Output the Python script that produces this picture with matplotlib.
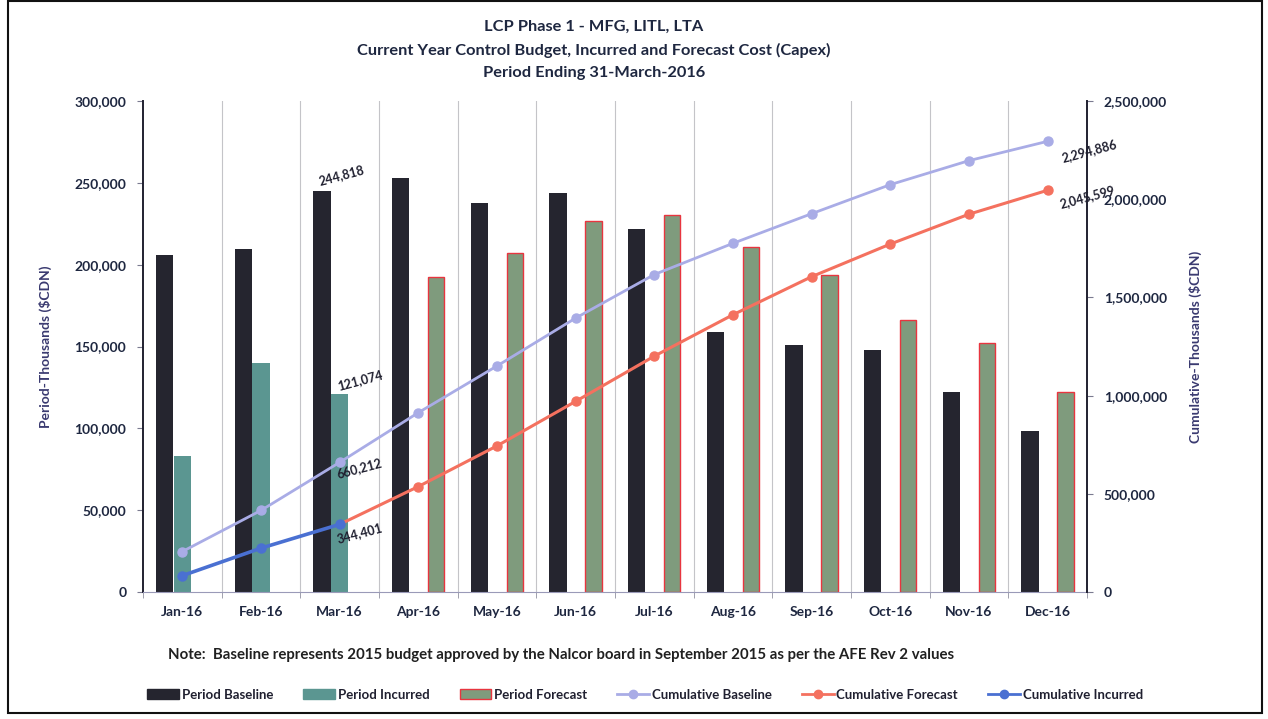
import numpy as np
import matplotlib
matplotlib.use("Agg")
import matplotlib.pyplot as plt
from matplotlib.patches import Patch, Rectangle
from matplotlib.lines import Line2D
from matplotlib.ticker import FuncFormatter, MultipleLocator, FixedLocator

plt.rcParams['font.family'] = ['Lato', 'DejaVu Sans']

months = ['Jan-16', 'Feb-16', 'Mar-16', 'Apr-16', 'May-16', 'Jun-16',
          'Jul-16', 'Aug-16', 'Sep-16', 'Oct-16', 'Nov-16', 'Dec-16']
nan = np.nan
period_baseline = [205900, 209494, 244818, 253000, 237700, 243800,
                   221800, 158900, 150900, 147900, 122200, 98474]
period_incurred = [83300, 140027, 121074, nan, nan, nan,
                   nan, nan, nan, nan, nan, nan]
period_forecast = [nan, nan, nan, 192500, 207100, 226700,
                   230300, 210800, 193700, 166200, 152000, 121898]
cum_baseline = [205900, 415394, 660212, 913212, 1150912, 1394712,
                1616512, 1775412, 1926312, 2074212, 2196412, 2294886]
cum_forecast = [nan, nan, 344401, 536901, 744001, 970701,
                1201001, 1411801, 1605501, 1771701, 1923701, 2045599]
cum_incurred = [83300, 223327, 344401, nan, nan, nan,
                nan, nan, nan, nan, nan, nan]

C_BASE = '#25252f'
C_INC = '#5b9691'
C_FC = '#7f9b7d'
C_FC_EDGE = '#e8353f'
C_CB = '#a9ace6'
C_CF = '#f4715f'
C_CI = '#4a70d2'
TXT = '#1e2740'

fig = plt.figure(figsize=(12.68, 7.19), dpi=100)
ax = fig.add_axes([143/1268, 1-592/719, (1087-143)/1268, (592-101)/719])
ax2 = ax.twinx()

x = np.arange(len(months))
w = 0.225
ax.bar(x - w, period_baseline, w * 0.98, color=C_BASE, zorder=2)
ax.bar(x, period_incurred, w * 0.98, color=C_INC, zorder=2)
ax.bar(x + w, period_forecast, w * 0.92, color=C_FC, edgecolor=C_FC_EDGE,
       linewidth=1.0, zorder=2)

ax.set_xlim(-0.5, len(months) - 0.5)
ax.set_ylim(0, 300000)
ax2.set_ylim(0, 2500000)

# vertical gridlines at category boundaries
for b in np.arange(0.5, len(months) - 0.5, 1):
    ax.axvline(b, color='#c4c4c8', lw=0.8, zorder=0)

ax2.plot(x, cum_baseline, color=C_CB, lw=2.0, marker='o', ms=6.5, zorder=3)
fc_marker_x = list(range(3, 12))
ax2.plot(x, cum_forecast, color=C_CF, lw=2.2, marker='o', ms=6.5,
         markevery=fc_marker_x, zorder=3)
ax2.plot(x, cum_incurred, color=C_CI, lw=2.6, marker='o', ms=6.5, zorder=4)

fmt = FuncFormatter(lambda v, p: f'{int(v):,}')
ax.yaxis.set_major_locator(MultipleLocator(50000))
ax.yaxis.set_major_formatter(fmt)
ax2.yaxis.set_major_locator(MultipleLocator(500000))
ax2.yaxis.set_major_formatter(fmt)

ax.set_xticks(x)
ax.set_xticklabels(months)
ax.tick_params(axis='x', length=0, pad=10, labelsize=10, labelcolor=TXT)
ax.xaxis.set_minor_locator(FixedLocator(np.arange(-0.5, len(months), 1)))
ax.tick_params(axis='x', which='minor', length=4, color='#9090a0', direction='out')
for lab in ax.get_xticklabels():
    lab.set_fontweight('bold')

ax.tick_params(axis='y', length=4, color='#7a7a90', pad=8, labelsize=10, labelcolor=TXT)
ax2.tick_params(axis='y', length=4, color='#7a7a90', pad=8, labelsize=10, labelcolor=TXT)
for lab in ax.get_yticklabels() + ax2.get_yticklabels():
    lab.set_fontweight('bold')

for sp in ['top']:
    ax.spines[sp].set_visible(False)
    ax2.spines[sp].set_visible(False)
ax.spines['left'].set_color('#202030')
ax.spines['left'].set_linewidth(1.4)
ax2.spines['right'].set_color('#202030')
ax2.spines['right'].set_linewidth(1.4)
ax2.spines['left'].set_visible(False)
ax.spines['right'].set_visible(False)
ax.spines['bottom'].set_color('#9a9ab8')
ax2.spines['bottom'].set_visible(False)

ax.set_ylabel('Period-Thousands ($CDN)', fontsize=10, fontweight='bold',
              color='#3a3a70', labelpad=16)
ax2.set_ylabel('Cumulative-Thousands ($CDN)', fontsize=10, fontweight='bold',
               color='#3a3a70', labelpad=16)

# data labels
ann = dict(fontsize=9, fontweight='bold', color='#202030', rotation=15,
           ha='center', va='center', textcoords='offset pixels')
ax.annotate(f'{period_baseline[2]:,}', (2 - w, period_baseline[2]), xytext=(20, 16), **ann)
ax.annotate(f'{period_incurred[2]:,}', (2, period_incurred[2]), xytext=(20, 14), **ann)
ax2.annotate(f'{cum_baseline[2]:,}', (2, cum_baseline[2]), xytext=(20, -6), **ann)
ax2.annotate(f'{cum_incurred[2]:,}', (2, cum_incurred[2]), xytext=(20, -9), **ann)
ax2.annotate(f'{cum_baseline[11]:,}', (11, cum_baseline[11]), xytext=(42, -10), **ann)
ax2.annotate(f'{cum_forecast[11]:,}', (11, cum_forecast[11]), xytext=(40, -7), **ann)

# titles
tkw = dict(ha='center', va='center', fontsize=11.8, fontweight='bold', color=TXT)
fig.text(594/1268, 1-27/719, 'LCP Phase 1 - MFG, LITL, LTA', **tkw)
fig.text(594/1268, 1-50/719, 'Current Year Control Budget, Incurred and Forecast Cost (Capex)', **tkw)
fig.text(594/1268, 1-73/719, 'Period Ending 31-March-2016', **tkw)

fig.text(561/1268, 1-655/719,
         'Note:  Baseline represents 2015 budget approved by the Nalcor board in September 2015 as per the AFE Rev 2 values',
         ha='center', va='center', fontsize=10.8, fontweight='bold', color='#202020')

handles = [
    Patch(facecolor=C_BASE, edgecolor=C_BASE, label='Period Baseline'),
    Patch(facecolor=C_INC, edgecolor=C_INC, label='Period Incurred'),
    Patch(facecolor=C_FC, edgecolor=C_FC_EDGE, label='Period Forecast'),
    Line2D([], [], color=C_CB, lw=2, marker='o', ms=6, label='Cumulative Baseline'),
    Line2D([], [], color=C_CF, lw=2, marker='o', ms=6, label='Cumulative Forecast'),
    Line2D([], [], color=C_CI, lw=2, marker='o', ms=6, label='Cumulative Incurred'),
]
leg = fig.legend(handles=handles, loc='center', bbox_to_anchor=(645/1268, 1-695/719),
                 ncol=6, frameon=False, fontsize=9.5, handlelength=2.4, handleheight=0.8,
                 columnspacing=2.3, handletextpad=0.2)
for t in leg.get_texts():
    t.set_fontweight('bold')
    t.set_color('#202030')

fig.add_artist(Rectangle((8/1268, 6/719), 1254/1268, 712/719, transform=fig.transFigure,
                         fill=False, edgecolor='#111111', lw=1.5))

fig.savefig('out.png', dpi=100)
